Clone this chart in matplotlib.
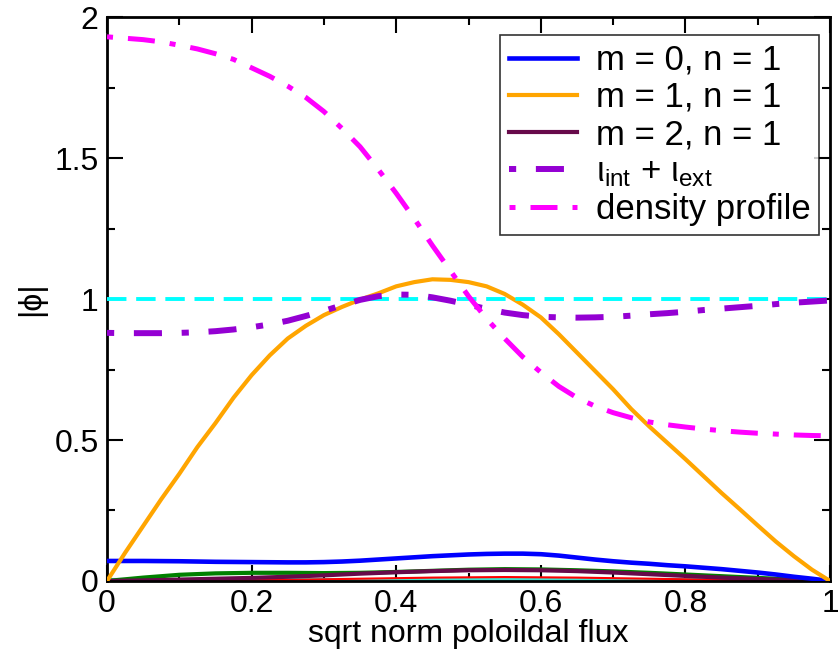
import numpy as np
import matplotlib
matplotlib.use("Agg")
import matplotlib.pyplot as plt

plt.rcParams['font.family'] = ['Liberation Sans', 'DejaVu Sans']
plt.rcParams['mathtext.default'] = 'regular'

# radial coordinate (sqrt of normalised poloidal flux)
rho = [0.0, 0.025, 0.05, 0.075, 0.1, 0.125, 0.15, 0.175, 0.2, 0.225,
       0.25, 0.275, 0.3, 0.325, 0.35, 0.375, 0.4, 0.425, 0.45, 0.475,
       0.5, 0.525, 0.55, 0.575, 0.6, 0.625, 0.65, 0.675, 0.7, 0.725,
       0.75, 0.775, 0.8, 0.825, 0.85, 0.875, 0.9, 0.925, 0.95, 0.975, 1.0]
# coarser sampling for the small harmonics
rho_c = [0.0, 0.05, 0.1, 0.15, 0.2, 0.25, 0.3, 0.35, 0.4, 0.45, 0.5,
         0.55, 0.6, 0.65, 0.7, 0.75, 0.8, 0.85, 0.9, 0.95, 1.0]

# harmonics |phi|
m0 = [0.071, 0.071, 0.071, 0.0705, 0.070, 0.069, 0.068, 0.0675, 0.067, 0.0665,
      0.066, 0.066, 0.067, 0.069, 0.072, 0.076, 0.080, 0.084, 0.088, 0.091,
      0.094, 0.096, 0.097, 0.097, 0.095, 0.090, 0.083, 0.076, 0.070, 0.065,
      0.061, 0.056, 0.052, 0.047, 0.042, 0.036, 0.030, 0.023, 0.015, 0.008, 0.0]
m1 = [0.0, 0.10, 0.195, 0.29, 0.38, 0.475, 0.56, 0.65, 0.73, 0.80,
      0.86, 0.905, 0.943, 0.972, 0.998, 1.02, 1.045, 1.06, 1.07, 1.068,
      1.06, 1.045, 1.018, 0.98, 0.935, 0.875, 0.81, 0.745, 0.68, 0.61,
      0.548, 0.49, 0.432, 0.372, 0.312, 0.255, 0.197, 0.14, 0.088, 0.04, 0.0]
m2 = [0.0, 0.002, 0.005, 0.008, 0.011, 0.015, 0.020, 0.026, 0.031, 0.035, 0.038,
      0.039, 0.038, 0.035, 0.030, 0.024, 0.018, 0.012, 0.007, 0.003, 0.0]
m3 = [0.0, 0.012, 0.022, 0.027, 0.029, 0.029, 0.028, 0.029, 0.032, 0.036, 0.040,
      0.042, 0.041, 0.038, 0.034, 0.029, 0.023, 0.017, 0.011, 0.005, 0.0]
m4 = [0.0, 0.0, 0.001, 0.002, 0.003, 0.004, 0.006, 0.008, 0.010, 0.012, 0.013,
      0.014, 0.013, 0.012, 0.010, 0.008, 0.006, 0.004, 0.002, 0.001, 0.0]
m5 = [0.004, 0.004, 0.004, 0.004, 0.004, 0.004, 0.004, 0.004, 0.004, 0.004, 0.004,
      0.004, 0.004, 0.004, 0.004, 0.004, 0.004, 0.004, 0.004, 0.004, 0.004]

# rotational transform and density
iota = [0.88, 0.879, 0.879, 0.879, 0.88, 0.882, 0.886, 0.892, 0.90, 0.91,
        0.923, 0.94, 0.958, 0.978, 0.997, 1.01, 1.016, 1.015, 1.006, 0.994,
        0.98, 0.965, 0.952, 0.943, 0.937, 0.935, 0.934, 0.935, 0.937, 0.941,
        0.946, 0.95, 0.955, 0.961, 0.966, 0.971, 0.976, 0.982, 0.987, 0.991, 0.995]
dens = [1.93, 1.925, 1.92, 1.912, 1.90, 1.887, 1.87, 1.85, 1.82, 1.79,
        1.755, 1.715, 1.665, 1.605, 1.54, 1.46, 1.375, 1.285, 1.19, 1.10,
        1.01, 0.93, 0.86, 0.795, 0.74, 0.69, 0.65, 0.62, 0.597, 0.579,
        0.564, 0.554, 0.546, 0.539, 0.533, 0.528, 0.524, 0.521, 0.518, 0.516, 0.515]
resonance = 1.0

fig = plt.figure(figsize=(8.38, 6.57), dpi=100)
ax = fig.add_axes([0.1277, 0.1157, 0.8628, 0.8583])

ax.plot(rho_c, m5, color='#40e0d0', lw=3.0, zorder=2)
ax.plot(rho_c, m4, color='#ff0000', lw=1.5, zorder=2)
ax.plot(rho_c, m3, color='#008000', lw=3.0, zorder=2)
ax.plot(rho_c, m2, color='#670a4a', lw=3.0, zorder=2, label='m = 2, n = 1')
ax.plot(rho, m0, color='#0000ff', lw=3.3, zorder=3, label='m = 0, n = 1')
ax.plot(rho, m1, color='#ffa500', lw=3.0, zorder=3, label='m = 1, n = 1')
ax.axhline(resonance, color='#00ffff', lw=2.8, dashes=(5, 2.5), zorder=3)
ax.plot(rho, iota, color='#9400d3', lw=4.3, dashes=(1.2, 3.3, 4.7, 3.3),
        zorder=4, label=r'ι$_{int}$ + ι$_{ext}$')
ax.plot(rho, dens, color='#ff00ff', lw=3.6, dashes=(1.2, 3.0, 5.4, 3.0),
        zorder=5, label='density profile')

ax.set_xlim(0, 1)
ax.set_ylim(0, 2)
ax.set_xticks([0, 0.2, 0.4, 0.6, 0.8, 1.0])
ax.set_xticklabels(['0', '0.2', '0.4', '0.6', '0.8', '1'])
ax.set_xticks(np.arange(0.1, 1.0, 0.2), minor=True)
ax.set_yticks([0, 0.5, 1.0, 1.5, 2.0])
ax.set_yticklabels(['0', '0.5', '1', '1.5', '2'])
ax.set_yticks([0.25, 0.75, 1.25, 1.75], minor=True)

ax.tick_params(which='both', direction='in', top=True, right=True, width=1.5)
ax.tick_params(which='major', length=11.5, labelsize=23, pad=6)
ax.tick_params(which='minor', length=5.8)
for s in ax.spines.values():
    s.set_linewidth(2)

ax.set_xlabel('sqrt norm poloildal flux', fontsize=23, labelpad=0)
ax.set_ylabel('|ϕ|', fontsize=23, labelpad=6)

h, l = ax.get_legend_handles_labels()
order = [1, 2, 0, 3, 4]
leg = ax.legend([h[i] for i in order], [l[i] for i in order],
                loc='upper right', bbox_to_anchor=(0.985, 0.968),
                fontsize=25, frameon=True, fancybox=False,
                edgecolor='black', borderpad=0.25, labelspacing=0.12,
                handlelength=1.95, handletextpad=0.55, borderaxespad=0)
leg.get_frame().set_linewidth(1.2)

fig.savefig('out.png', dpi=100)
